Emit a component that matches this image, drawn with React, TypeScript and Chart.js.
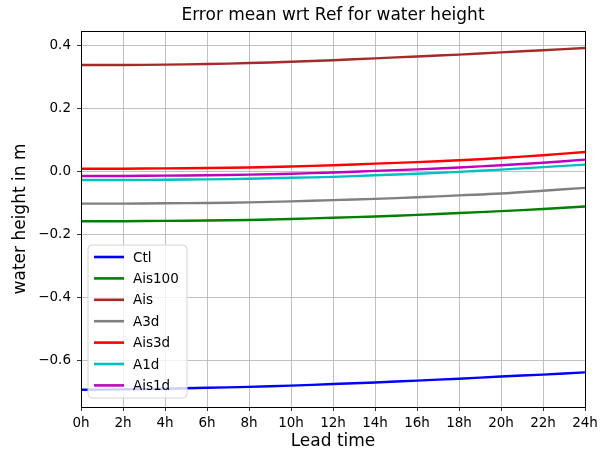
import React, { useEffect, useRef } from "react";
import { Chart, registerables } from "chart.js";

Chart.register(...registerables);

const hours = [0, 2, 4, 6, 8, 10, 12, 14, 16, 18, 20, 22, 24];
const yTicks = [-0.6, -0.4, -0.2, 0.0, 0.2, 0.4];

const ctl = [-0.694, -0.693, -0.691, -0.688, -0.685, -0.681, -0.676, -0.671, -0.665, -0.659, -0.652, -0.646, -0.639];
const ais100 = [-0.158, -0.158, -0.157, -0.156, -0.154, -0.151, -0.147, -0.143, -0.138, -0.132, -0.126, -0.119, -0.111];
const ais = [0.339, 0.339, 0.340, 0.342, 0.345, 0.349, 0.354, 0.360, 0.366, 0.372, 0.379, 0.386, 0.393];
const a3d = [-0.102, -0.102, -0.101, -0.100, -0.098, -0.095, -0.091, -0.087, -0.082, -0.076, -0.070, -0.061, -0.052];
const ais3d = [0.009, 0.009, 0.010, 0.011, 0.013, 0.016, 0.020, 0.025, 0.030, 0.036, 0.043, 0.052, 0.062];
const a1d = [-0.027, -0.027, -0.026, -0.025, -0.023, -0.020, -0.017, -0.012, -0.007, -0.001, 0.006, 0.014, 0.022];
const ais1d = [-0.014, -0.014, -0.013, -0.012, -0.010, -0.007, -0.003, 0.002, 0.007, 0.013, 0.020, 0.028, 0.038];

const seriesNames = ["Ctl", "Ais100", "Ais", "A3d", "Ais3d", "A1d", "Ais1d"];
const seriesValues = [ctl, ais100, ais, a3d, ais3d, a1d, ais1d];
const seriesColors = ["#0000ff", "#008000", "#a52a2a", "#808080", "#ff0000", "#00bfbf", "#bf00bf"];

const FONT = "'DejaVu Sans', sans-serif";

const framePlugin = {
  id: "frame",
  beforeDraw(chart: any) {
    const { ctx, width, height } = chart;
    ctx.save();
    ctx.fillStyle = "#ffffff";
    ctx.fillRect(0, 0, width, height);
    ctx.restore();
  },
  afterDraw(chart: any) {
    const { ctx, chartArea } = chart;
    const { left, right, top, bottom } = chartArea;
    ctx.save();
    ctx.strokeStyle = "#000000";
    ctx.lineWidth = 1;
    ctx.strokeRect(Math.round(left) + 0.5, Math.round(top) + 0.5, Math.round(right - left), Math.round(bottom - top));
    // title
    ctx.fillStyle = "#000000";
    ctx.font = `17px ${FONT}`;
    ctx.textAlign = "center";
    ctx.textBaseline = "middle";
    ctx.fillText("Error mean wrt Ref for water height", (left + right) / 2, 16);

    // legend
    const lx = left + 7;
    const ly = bottom - 162;
    const lw = 99;
    const lh = 153;
    const r = 4;
    ctx.beginPath();
    ctx.moveTo(lx + r, ly);
    ctx.lineTo(lx + lw - r, ly);
    ctx.quadraticCurveTo(lx + lw, ly, lx + lw, ly + r);
    ctx.lineTo(lx + lw, ly + lh - r);
    ctx.quadraticCurveTo(lx + lw, ly + lh, lx + lw - r, ly + lh);
    ctx.lineTo(lx + r, ly + lh);
    ctx.quadraticCurveTo(lx, ly + lh, lx, ly + lh - r);
    ctx.lineTo(lx, ly + r);
    ctx.quadraticCurveTo(lx, ly, lx + r, ly);
    ctx.closePath();
    ctx.fillStyle = "rgba(255,255,255,0.8)";
    ctx.fill();
    ctx.strokeStyle = "#d6d6d6";
    ctx.lineWidth = 1;
    ctx.stroke();

    ctx.font = `13.5px ${FONT}`;
    ctx.textAlign = "left";
    ctx.textBaseline = "middle";
    chart.data.datasets.forEach((ds: any, i: number) => {
      const y = ly + 12 + i * 21.4;
      ctx.strokeStyle = ds.borderColor;
      ctx.lineWidth = 2.6;
      ctx.beginPath();
      ctx.moveTo(lx + 6, y);
      ctx.lineTo(lx + 36, y);
      ctx.stroke();
      ctx.fillStyle = "#000000";
      ctx.fillText(ds.label, lx + 45, y + 1);
    });
    ctx.restore();
  },
};

export default function App() {
  const ref = useRef<HTMLCanvasElement | null>(null);

  useEffect(() => {
    if (!ref.current) return;
    const chart = new Chart(ref.current, {
      type: "line",
      data: {
        datasets: seriesNames.map((name, i) => ({
          label: name,
          data: hours.map((h, j) => ({ x: h, y: seriesValues[i][j] })),
          borderColor: seriesColors[i],
          backgroundColor: seriesColors[i],
          borderWidth: 2.4,
          pointRadius: 0,
          tension: 0.4,
          fill: false,
        })),
      },
      options: {
        responsive: false,
        animation: false,
        layout: { padding: { left: 0, right: 27, top: 31, bottom: 0 } },
        plugins: {
          legend: { display: false },
          title: { display: false },
          tooltip: { enabled: false },
        },
        scales: {
          x: {
            type: "linear",
            min: 0,
            max: 24,
            afterBuildTicks: (scale: any) => {
              scale.ticks = hours.map((v) => ({ value: v }));
            },
            afterFit: (scale: any) => {
              scale.height = 43;
            },
            ticks: {
              callback: (v: any) => `${v}h`,
              font: { family: FONT, size: 13.5 },
              color: "#000000",
              padding: 4,
              maxRotation: 0,
              autoSkip: false,
            },
            grid: {
              color: "#b0b0b0",
              lineWidth: 0.8,
              tickColor: "#000000",
              tickLength: 4,
            },
            border: { color: "#000000", width: 1 },
            title: {
              display: true,
              text: "Lead time",
              font: { family: FONT, size: 17 },
              color: "#000000",
              padding: { top: 0, bottom: -2 },
            },
          },
          y: {
            type: "linear",
            min: -0.749,
            max: 0.447,
            afterBuildTicks: (scale: any) => {
              scale.ticks = yTicks.map((v) => ({ value: v }));
            },
            afterFit: (scale: any) => {
              scale.width = 81;
            },
            ticks: {
              callback: (v: any) => {
                const n = Number(v);
                const s = Math.abs(n).toFixed(1);
                return n < -1e-9 ? `\u2212${s}` : s;
              },
              font: { family: FONT, size: 13.5 },
              color: "#000000",
              padding: 6,
            },
            grid: {
              color: "#b0b0b0",
              lineWidth: 0.8,
              tickColor: "#000000",
              tickLength: 4,
            },
            border: { color: "#000000", width: 1 },
            title: {
              display: true,
              text: "water height in m",
              font: { family: FONT, size: 17 },
              color: "#000000",
              padding: { top: 10, bottom: 0 },
            },
          },
        },
      },
      plugins: [framePlugin],
    });
    return () => chart.destroy();
  }, []);

  return (
    <div style={{ position: "absolute", left: 0, top: 0, width: 612, height: 450 }}>
      <canvas ref={ref} width={612} height={450} style={{ width: 612, height: 450 }} />
    </div>
  );
}
